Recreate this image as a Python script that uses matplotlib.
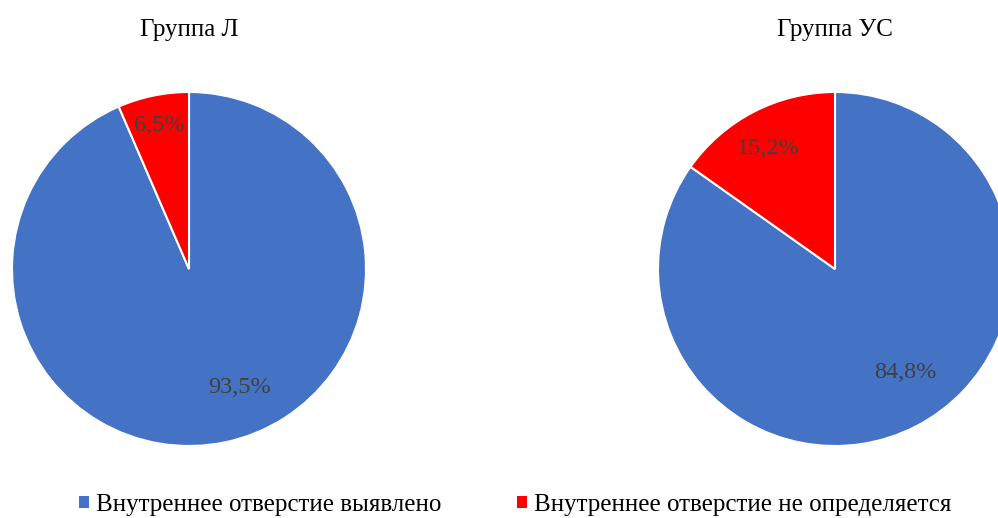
import matplotlib
matplotlib.use("Agg")
import matplotlib.pyplot as plt
import numpy as np
from matplotlib.patches import Patch

plt.rcParams["font.family"] = ["Liberation Serif", "DejaVu Serif"]

groups = ["Группа Л", "Группа УС"]
categories = ["Внутреннее отверстие выявлено", "Внутреннее отверстие не определяется"]
values_l = [93.5, 6.5]
values_us = [84.8, 15.2]
colors = ["#4472C4", "#FF0000"]

W, H = 998, 518
fig = plt.figure(figsize=(W / 100, H / 100), dpi=100)


def draw_pie(cx, cy, r, values, title, dists, shifts):
    """
    绘制单个饼图，cx, cy, r 为像素坐标。
    dists / shifts: 标签离中心距离和角度偏移（模仿 Excel 的 best fit）。
    """
    ax = fig.add_axes([(cx - r) / W, (H - cy - r) / H, 2 * r / W, 2 * r / H])
    wedges, _ = ax.pie(
        values,
        colors=colors,
        startangle=90,
        counterclock=False,
        radius=1,
        wedgeprops=dict(edgecolor="white", linewidth=1.5),
    )
    for w, v, d, s in zip(wedges, values, dists, shifts):
        ang = np.deg2rad((w.theta1 + w.theta2) / 2 + s)
        ax.text(d * np.cos(ang), d * np.sin(ang), f"{v:.1f}%".replace(".", ","),
                ha="center", va="center", fontsize=17.5, color="#404040")
    ax.set_xlim(-1, 1)
    ax.set_ylim(-1, 1)
    ax.set_aspect("equal")
    ax.axis("off")
    fig.text(cx / W, 1 - 30 / H, title, ha="center", va="center", fontsize=18)


draw_pie(189, 269, 177, values_l, groups[0], [0.73, 0.83], [11.5, 0])
draw_pie(835, 269, 177, values_us, groups[1], [0.71, 0.78], [6.8, 1.5])

handles = [Patch(facecolor=c, label=l) for c, l in zip(colors, categories)]
fig.legend(handles=handles, loc="center", bbox_to_anchor=(515 / W, 1 - 505 / H),
           ncol=2, frameon=False, fontsize=18, handlelength=0.4, handleheight=0.4,
           handletextpad=0.3, columnspacing=3.0)

fig.savefig("out.png", dpi=100)
